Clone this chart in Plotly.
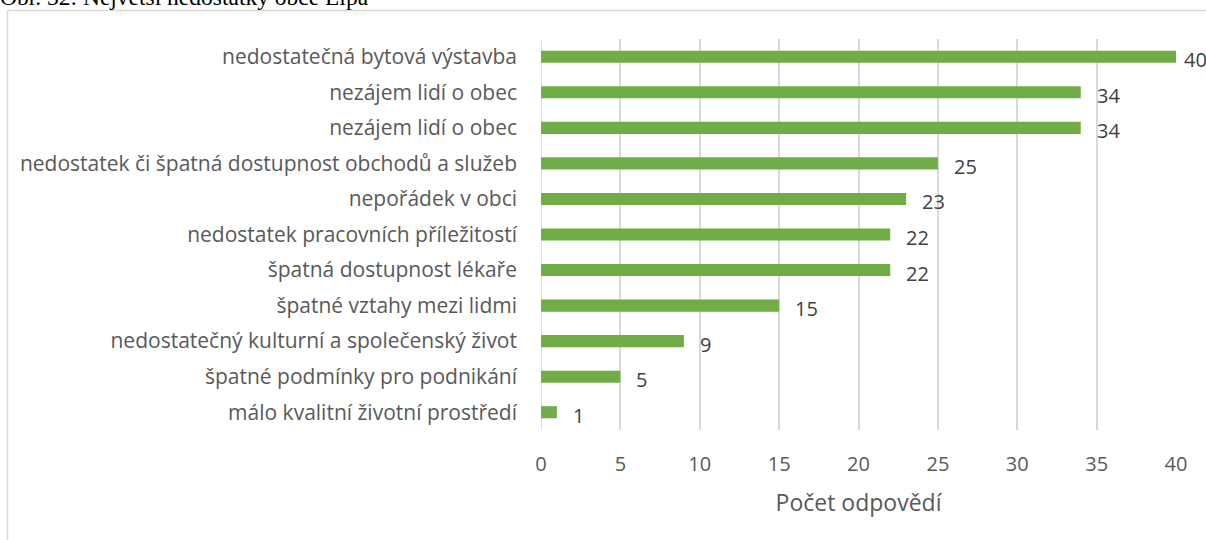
import plotly.graph_objects as go

categories = [
    "nedostatečná bytová výstavba",
    "nezájem lidí o obec",
    "nezájem lidí o obec",
    "nedostatek či špatná dostupnost obchodů a služeb",
    "nepořádek v obci",
    "nedostatek pracovních příležitostí",
    "špatná dostupnost lékaře",
    "špatné vztahy mezi lidmi",
    "nedostatečný kulturní a společenský život",
    "špatné podmínky pro podnikání",
    "málo kvalitní životní prostředí",
]
values = [40, 34, 34, 25, 23, 22, 22, 15, 9, 5, 1]
x_ticks = [0, 5, 10, 15, 20, 25, 30, 35, 40]
title_text = "Obr. 32: Největší nedostatky obce Lípa"
axis_title = "Počet odpovědí"

positions = list(range(len(categories)))

W, H = 1206, 540
L, R, T, B = 541, 30, 39, 110
pw, ph = W - L - R, H - T - B

def px_x(p):
    return (p - L) / pw

def px_y(p):
    return (H - B - p) / ph

FONT = "Open Sans, sans-serif"

fig = go.Figure()
fig.add_trace(go.Bar(
    x=values, y=positions, orientation="h",
    marker=dict(color="#70ad47", line=dict(width=0)),
    width=0.34, hoverinfo="skip",
))

vmax = max(values)
for v, p in zip(values, positions):
    fig.add_annotation(x=v, y=p, text=str(v), showarrow=False,
                       xanchor="left", yanchor="middle",
                       xshift=(7 if v == vmax else 15), yshift=-3, borderpad=0,
                       font=dict(family=FONT, size=20, color="#404040"))

# chart frame
fig.add_shape(type="rect", xref="paper", yref="paper",
              x0=px_x(7.5), x1=px_x(1220), y0=px_y(10.5), y1=px_y(560),
              line=dict(color="#d9d9d9", width=1.5), fillcolor="rgba(0,0,0,0)", layer="below")

fig.add_annotation(xref="paper", yref="paper", x=px_x(-1), y=px_y(11), xanchor="left", yanchor="bottom",
                   text=title_text, showarrow=False, borderpad=0,
                   font=dict(family="Liberation Serif, Times New Roman, serif", size=23.5, color="#000000"))

fig.update_layout(
    width=W, height=H,
    margin=dict(l=L, r=R, t=T, b=B, pad=0),
    paper_bgcolor="white", plot_bgcolor="white",
    showlegend=False,
    xaxis=dict(range=[0, 40], tickvals=x_ticks, showgrid=True, gridcolor="#d9d9d9", gridwidth=1.5,
               zeroline=False, showline=False, ticks="", ticklabelstandoff=20,
               tickfont=dict(family=FONT, size=20, color="#595959"),
               title=dict(text=axis_title, standoff=18,
                          font=dict(family=FONT, size=23, color="#595959"))),
    yaxis=dict(tickvals=positions, ticktext=categories, range=[len(categories) - 0.5, -0.5],
               showgrid=False, zeroline=False, showline=False, ticks="",
               ticklabelstandoff=23,
               tickfont=dict(family=FONT, size=21, color="#595959")),
)
fig.add_shape(type="line", xref="x", yref="paper", x0=0, x1=0, y0=0, y1=1,
              line=dict(color="#d9d9d9", width=1.5), layer="below")

fig.write_html("out.html", config={"displayModeBar": False},
               post_script="document.body.style.margin='0';document.body.style.overflow='hidden';")
